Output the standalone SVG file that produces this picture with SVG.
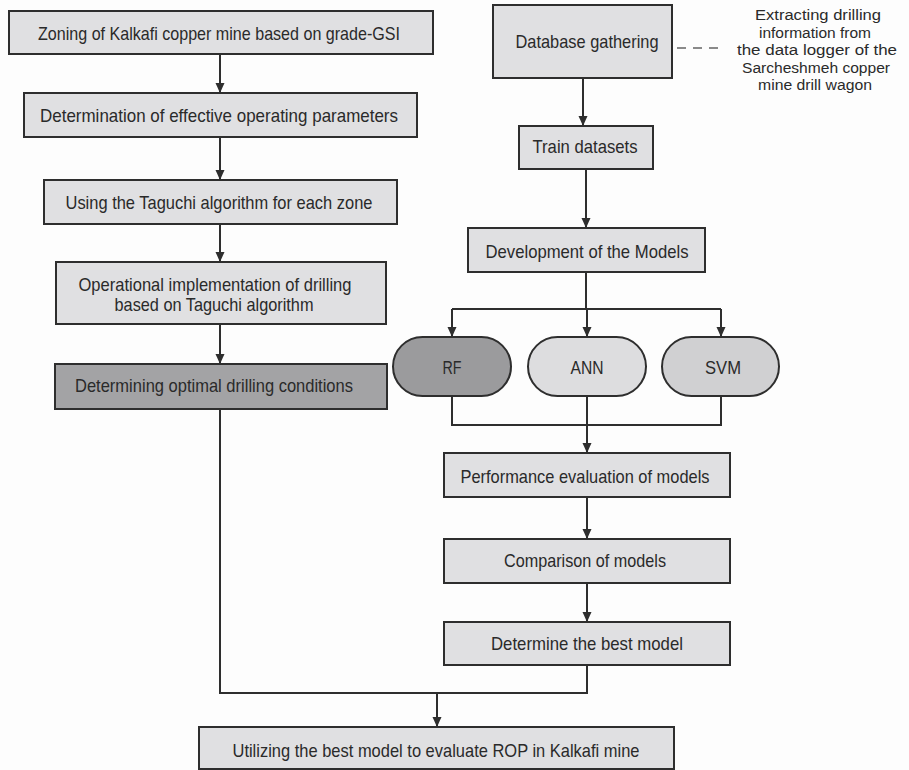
<svg xmlns="http://www.w3.org/2000/svg" width="909" height="770" viewBox="0 0 909 770">
  <style>
    .box { fill: #e0e0e2; stroke: #2e2e2e; stroke-width: 2; }
    .dark { fill: #a3a3a5; }
    .lbl { font-family: "Liberation Sans Narrow", "Liberation Sans", Arial, sans-serif; font-size: 19px; fill: #2a2a2a; text-anchor: middle; }
    .note { font-family: "Liberation Sans Narrow", "Liberation Sans", Arial, sans-serif; font-size: 15.5px; fill: #2a2a2a; text-anchor: middle; }
    .wire { fill: none; stroke: #2e2e2e; stroke-width: 2; }
    .dash { fill: none; stroke: #8a8a8a; stroke-width: 2; stroke-dasharray: 9 7; }
  </style>
  <defs>
    <marker id="arrow" markerUnits="userSpaceOnUse" viewBox="0 0 10 10" refX="10" refY="5" markerWidth="10" markerHeight="10" orient="auto">
      <path d="M0,0.5 L10,5 L0,9.5 z" fill="#2e2e2e"/>
    </marker>
  </defs>
  <rect width="909" height="770" fill="#fdfdfd"/>

  <!-- connectors -->
  <g id="connectors">
    <line class="wire" x1="220" y1="54" x2="220" y2="93" marker-end="url(#arrow)"/>
    <line class="wire" x1="220" y1="137" x2="220" y2="180" marker-end="url(#arrow)"/>
    <line class="wire" x1="220" y1="224" x2="220" y2="262" marker-end="url(#arrow)"/>
    <line class="wire" x1="220" y1="324" x2="220" y2="364" marker-end="url(#arrow)"/>
    <polyline class="wire" points="220,409 220,693 587,693 587,665"/>
    <line class="wire" x1="437" y1="693" x2="437" y2="727" marker-end="url(#arrow)"/>

    <line class="wire" x1="583" y1="78" x2="583" y2="126" marker-end="url(#arrow)"/>
    <line class="wire" x1="586" y1="169" x2="586" y2="228" marker-end="url(#arrow)"/>
    <line class="wire" x1="586" y1="272" x2="586" y2="309"/>
    <line class="wire" x1="452" y1="309" x2="721" y2="309"/>
    <line class="wire" x1="452" y1="309" x2="452" y2="337" marker-end="url(#arrow)"/>
    <line class="wire" x1="587" y1="309" x2="587" y2="337" marker-end="url(#arrow)"/>
    <line class="wire" x1="721" y1="309" x2="721" y2="337" marker-end="url(#arrow)"/>
    <polyline class="wire" points="452,396 452,425 721,425 721,396"/>
    <line class="wire" x1="587" y1="396" x2="587" y2="453" marker-end="url(#arrow)"/>
    <line class="wire" x1="587" y1="497" x2="587" y2="539" marker-end="url(#arrow)"/>
    <line class="wire" x1="587" y1="583" x2="587" y2="622" marker-end="url(#arrow)"/>

    <line class="dash" x1="677" y1="48" x2="722" y2="48"/>
  </g>

  <!-- left column -->
  <g id="zoning">
    <rect class="box" x="9" y="11" width="424" height="43"/>
    <text class="lbl" x="219" y="40" textLength="362" lengthAdjust="spacingAndGlyphs">Zoning of Kalkafi copper mine based on grade-GSI</text>
  </g>
  <g id="parameters">
    <rect class="box" x="24" y="93" width="393" height="44"/>
    <text class="lbl" x="219" y="122" textLength="358" lengthAdjust="spacingAndGlyphs">Determination of effective operating parameters</text>
  </g>
  <g id="taguchi">
    <rect class="box" x="44" y="180" width="353" height="44"/>
    <text class="lbl" x="219" y="209" textLength="307" lengthAdjust="spacingAndGlyphs">Using the Taguchi algorithm for each zone</text>
  </g>
  <g id="implementation">
    <rect class="box" x="56" y="262" width="330" height="62"/>
    <text class="lbl" x="215" y="291" textLength="273" lengthAdjust="spacingAndGlyphs">Operational implementation of drilling</text>
    <text class="lbl" x="214" y="311" textLength="199" lengthAdjust="spacingAndGlyphs">based on Taguchi algorithm</text>
  </g>
  <g id="optimal">
    <rect class="box dark" x="55" y="364" width="332" height="45"/>
    <text class="lbl" x="214" y="392" textLength="278" lengthAdjust="spacingAndGlyphs">Determining optimal drilling conditions</text>
  </g>

  <!-- right column -->
  <g id="database">
    <rect class="box" x="493" y="5" width="179" height="73"/>
    <text class="lbl" x="587" y="48" textLength="143" lengthAdjust="spacingAndGlyphs">Database gathering</text>
  </g>
  <g id="source-note">
    <text class="note" x="818" y="20" textLength="126" lengthAdjust="spacingAndGlyphs">Extracting drilling</text>
    <text class="note" x="815" y="38" textLength="112" lengthAdjust="spacingAndGlyphs">information from</text>
    <text class="note" x="817" y="55" textLength="160" lengthAdjust="spacingAndGlyphs">the data logger of the</text>
    <text class="note" x="816" y="73" textLength="148" lengthAdjust="spacingAndGlyphs">Sarcheshmeh copper</text>
    <text class="note" x="815" y="90" textLength="114" lengthAdjust="spacingAndGlyphs">mine drill wagon</text>
  </g>
  <g id="train">
    <rect class="box" x="519" y="126" width="134" height="43"/>
    <text class="lbl" x="585" y="153" textLength="105" lengthAdjust="spacingAndGlyphs">Train datasets</text>
  </g>
  <g id="development">
    <rect class="box" x="468" y="228" width="237" height="44"/>
    <text class="lbl" x="587" y="258" textLength="203" lengthAdjust="spacingAndGlyphs">Development of the Models</text>
  </g>
  <g id="rf">
    <rect class="box" x="393" y="337" width="118" height="59" rx="29.5" ry="29.5" style="fill:#9b9b9d"/>
    <text class="lbl" x="452" y="374" textLength="19" lengthAdjust="spacingAndGlyphs">RF</text>
  </g>
  <g id="ann">
    <rect class="box" x="528" y="337" width="118" height="59" rx="29.5" ry="29.5" style="fill:#dddddf"/>
    <text class="lbl" x="587" y="374" textLength="33" lengthAdjust="spacingAndGlyphs">ANN</text>
  </g>
  <g id="svm">
    <rect class="box" x="662" y="337" width="117" height="59" rx="29.5" ry="29.5" style="fill:#d0d0d2"/>
    <text class="lbl" x="723" y="374" textLength="36" lengthAdjust="spacingAndGlyphs">SVM</text>
  </g>
  <g id="performance">
    <rect class="box" x="444" y="453" width="286" height="44"/>
    <text class="lbl" x="585" y="483" textLength="249" lengthAdjust="spacingAndGlyphs">Performance evaluation of models</text>
  </g>
  <g id="comparison">
    <rect class="box" x="444" y="539" width="286" height="44"/>
    <text class="lbl" x="585" y="567" textLength="162" lengthAdjust="spacingAndGlyphs">Comparison of models</text>
  </g>
  <g id="best-model">
    <rect class="box" x="444" y="622" width="286" height="43"/>
    <text class="lbl" x="587" y="650" textLength="192" lengthAdjust="spacingAndGlyphs">Determine the best model</text>
  </g>

  <!-- final step -->
  <g id="utilize">
    <rect class="box" x="199" y="727" width="475" height="42"/>
    <text class="lbl" x="436" y="757" textLength="407" lengthAdjust="spacingAndGlyphs">Utilizing the best model to evaluate ROP in Kalkafi mine</text>
  </g>
</svg>
